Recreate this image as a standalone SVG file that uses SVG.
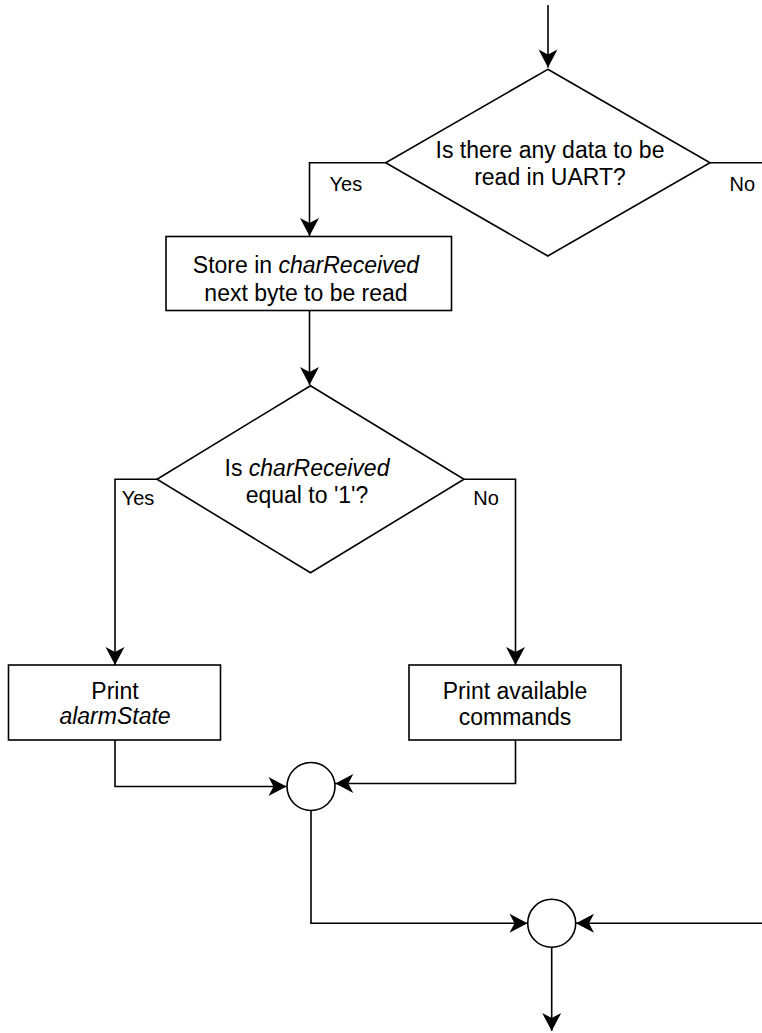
<svg xmlns="http://www.w3.org/2000/svg" width="762" height="1033" viewBox="0 0 762 1033">
<style>
.shape{fill:#fff;stroke:#000;stroke-width:1.6}
.line{fill:none;stroke:#000;stroke-width:1.6}
text{font-family:"Liberation Sans",Arial,sans-serif;font-size:23px;fill:#000;text-anchor:middle}
.lbl{font-size:20px;text-anchor:start}
.it{font-style:italic}
</style>
<defs>
<marker id="arr" markerUnits="userSpaceOnUse" markerWidth="22" markerHeight="22" viewBox="-20 -11 22 22" refX="0" refY="0" orient="auto">
<path d="M0,0 L-18,-9.5 L-13,0 L-18,9.5 Z" fill="#000"/>
</marker>
</defs>
<g id="connectors">
<path class="line" d="M548,5 V67.5" marker-end="url(#arr)"/>
<path class="line" d="M385.7,162.7 H309.5 V236" marker-end="url(#arr)"/>
<path class="line" d="M710,162.7 H762"/>
<path class="line" d="M309.5,310.5 V385" marker-end="url(#arr)"/>
<path class="line" d="M157,479.3 H115 V665" marker-end="url(#arr)"/>
<path class="line" d="M464,479.3 H515.5 V665" marker-end="url(#arr)"/>
<path class="line" d="M115,740 V786.5 H286.5" marker-end="url(#arr)"/>
<path class="line" d="M515.5,740 V783.5 H335.3" marker-end="url(#arr)"/>
<path class="line" d="M311,810.5 V923.3 H527.5" marker-end="url(#arr)"/>
<path class="line" d="M762,923.3 H576" marker-end="url(#arr)"/>
<path class="line" d="M551.7,947.3 V1031" marker-end="url(#arr)"/>
</g>
<g id="label-yes1"><text class="lbl" x="329.5" y="190.5">Yes</text></g>
<g id="label-no1"><text class="lbl" x="729.5" y="190.5">No</text></g>
<g id="label-yes2"><text class="lbl" x="121.7" y="505">Yes</text></g>
<g id="label-no2"><text class="lbl" x="473.3" y="505">No</text></g>
<g id="decision-uart">
<path class="shape" d="M547.8,69.3 L710,162.7 L547.8,256 L385.7,162.7 Z"/>
<text x="550" y="158.3">Is there any data to be</text>
<text x="550" y="185">read in UART?</text>
</g>
<g id="store-byte">
<rect class="shape" x="166" y="236.5" width="285.5" height="74"/>
<text x="306" y="273.3">Store in <tspan class="it">charReceived</tspan></text>
<text x="306" y="301">next byte to be read</text>
</g>
<g id="decision-char">
<path class="shape" d="M310.5,385.7 L464,479.3 L310.5,572.7 L157,479.3 Z"/>
<text x="307" y="476">Is <tspan class="it">charReceived</tspan></text>
<text x="307" y="502.7">equal to '1'?</text>
</g>
<g id="print-alarm">
<rect class="shape" x="8.5" y="665" width="212" height="75"/>
<text x="115" y="699">Print</text>
<text class="it" x="115" y="724">alarmState</text>
</g>
<g id="print-commands">
<rect class="shape" x="409" y="665" width="212" height="75"/>
<text x="515" y="699">Print available</text>
<text x="515" y="725">commands</text>
</g>
<g id="merge1"><circle class="shape" cx="311" cy="786.5" r="24"/></g>
<g id="merge2"><circle class="shape" cx="551.7" cy="923.3" r="24"/></g>
</svg>
